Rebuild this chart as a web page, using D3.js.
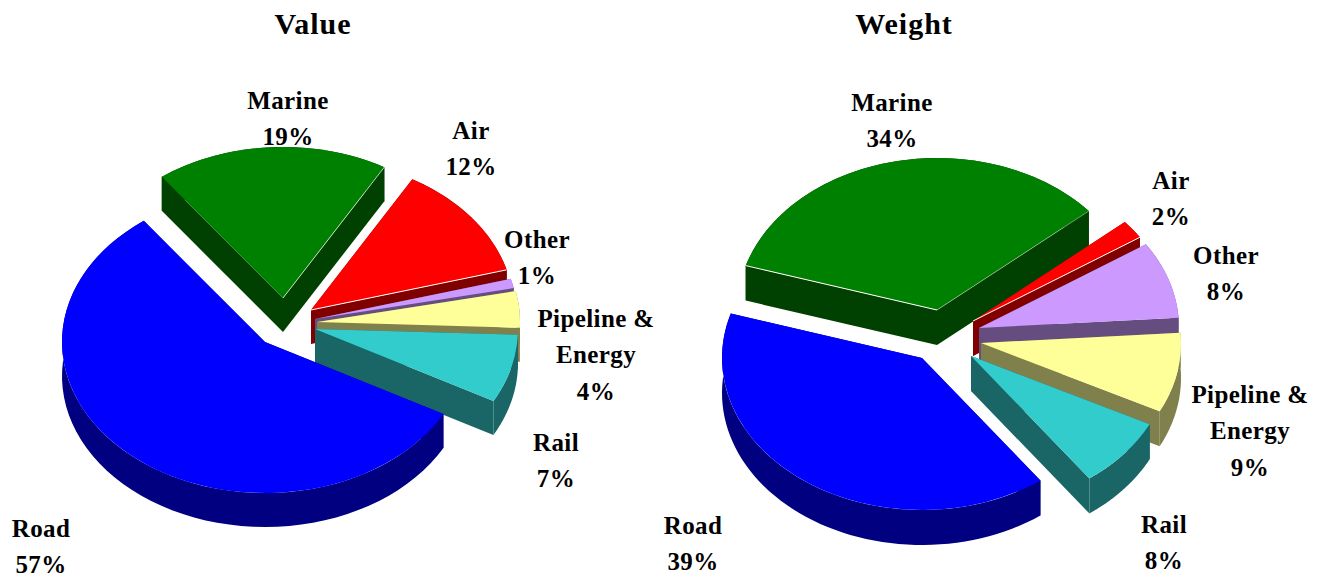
<!DOCTYPE html>
<html><head><meta charset="utf-8">
<script src="https://cdn.jsdelivr.net/npm/d3@7"></script>
<style>html,body{margin:0;padding:0;background:#fff}svg{display:block}
text{font-family:"Liberation Serif",serif;font-weight:bold;fill:#000;text-anchor:middle}</style>
</head><body><svg id="c" width="1325" height="579"></svg>
<script>
const categories=["Road","Marine","Air","Other","Pipeline & Energy","Rail"];
const valueShares=[56.9,18.5,12.4,1,3.9,7.3];
const weightShares=[39.8,34,2,8.2,8.5,7.5];
const valueLabels=["57%","19%","12%","1%","4%","7%"];
const weightLabels=["39%","34%","2%","8%","9%","8%"];
const topColors=["#0000ff","#008000","#ff0000","#cc99ff","#ffff99","#33cccc"];
const wallColors=["#000080","#004000","#800000","#664d80","#80804d","#1a6666"];
const charts=[
 {title:"Value",tx:313,shares:valueShares,pct:valueLabels,start:118.5,cx:265,cy:342,rx:203,ry:151,depth:34,
  offs:[[0,0],[18,-44],[46,-32],[50,-23],[52,-20],[50,-13]],
  labels:[[41,537],[288,109],[471,139],[537,248],[596,327],[556,451]],
  edges:[[2,"end",1],[1,"end",.7]]},
 {title:"Weight",tx:904,shares:weightShares,pct:weightLabels,start:143.7,cx:922,cy:358,rx:200,ry:152,depth:35,
  offs:[[0,0],[15,-48],[51,-37],[57,-30],[59,-15],[49,-2]],
  labels:[[693,534],[892,111],[1171,189],[1226,264],[1250,403],[1164,533]],
  edges:[[2,"end",1],[1,"start",1],[1,"end",.4]]}
];
const svg=d3.select("#c");
const drawOrder=[1,2,3,4,5,0];
charts.forEach(ch=>{
  const t0=ch.start*Math.PI/180;
  const pie=d3.pie().sort(null).startAngle(t0).endAngle(t0+2*Math.PI);
  const arcs=pie(ch.shares);
  const g=svg.append("g");
  const k=ch.ry/ch.rx;
  const arcGen=d3.arc().innerRadius(0).outerRadius(ch.rx);
  const line=d3.line();
  drawOrder.forEach(i=>{
    const a=arcs[i],[ox,oy]=ch.offs[i];
    const ax=ch.cx+ox, ay=ch.cy+oy, d=ch.depth;
    const pt=th=>[ax+ch.rx*Math.sin(th), ay-ch.ry*Math.cos(th)];
    const sweep=d3.range(0,61).map(j=>pt(a.startAngle+(a.endAngle-a.startAngle)*j/60));
    const down=p=>[p[0],p[1]+d];
    const apex=[ax,ay], first=sweep[0], last=sweep[60];
    const wall=g.append("g").attr("fill",wallColors[i]);
    const faces=[[apex,first,down(first),down(apex)],[apex,last,down(last),down(apex)],
                 [...sweep,...sweep.slice().reverse().map(down)]];
    faces.forEach(f=>wall.append("path").attr("d",line(f)+"Z"));
    g.append("path").attr("d",arcGen(a))
      .attr("transform",`translate(${ax},${ay}) scale(1,${k})`)
      .attr("fill",topColors[i]);
    ch.edges.filter(e=>e[0]===i).forEach(e=>{
      g.append("path").attr("d",line([apex,e[1]==="end"?last:first]))
        .attr("fill","none").attr("stroke","#fff").attr("stroke-width",1).attr("stroke-opacity",e[2]);
    });
  });
  svg.append("text").attr("x",ch.tx).attr("y",34).attr("font-size",30).attr("letter-spacing",1).text(ch.title);
  categories.forEach((c,i)=>{
    const [x,y]=ch.labels[i];
    const lines=c==="Pipeline & Energy"?["Pipeline &","Energy"]:[c];
    lines.concat([ch.pct[i]]).forEach((s,j)=>{
      svg.append("text").attr("x",x).attr("y",y+j*36.3).attr("font-size",25).attr("letter-spacing",.4).text(s);
    });
  });
});
</script></body></html>
